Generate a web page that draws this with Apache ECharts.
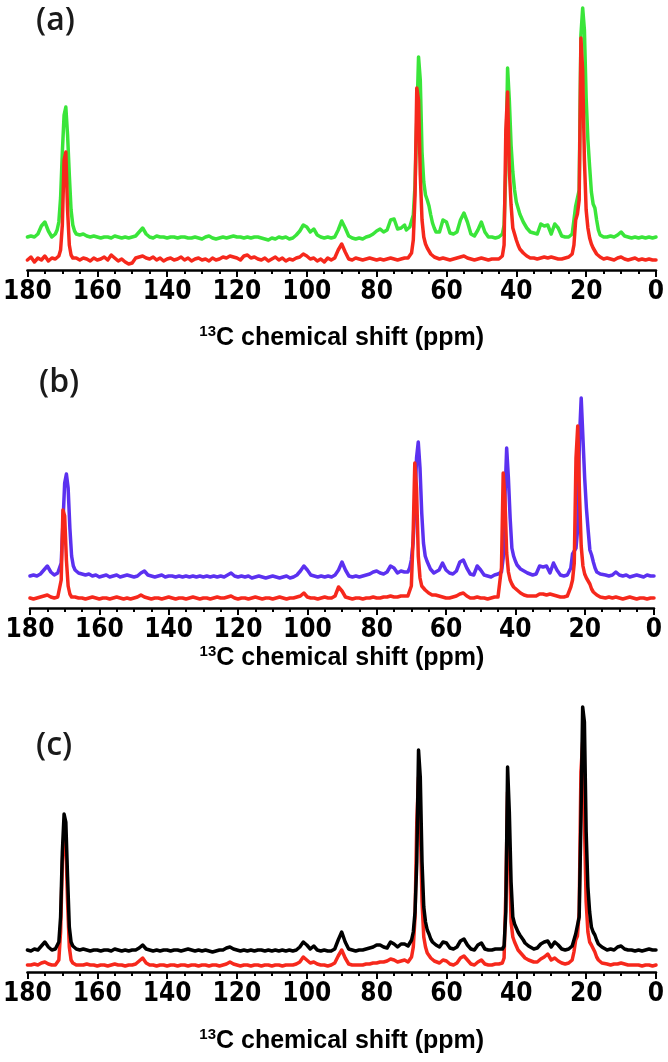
<!DOCTYPE html>
<html>
<head>
<meta charset="utf-8">
<script src="https://cdn.jsdelivr.net/npm/echarts@6/dist/echarts.min.js"></script>
<style>
html,body{margin:0;padding:0;background:#fff;}
#chart{width:668px;height:1062px;}
</style>
</head>
<body>
<div id="chart"></div>
<script>
// chemical shift grid (ppm), shared by every trace
const ppm = [
180,179,178,177,176,175,174,173,172,
171.5,171,170.5,170,169.5,169,168.5,168,167.5,167,166.5,166,
165,164,163,162,161,160,159,158,157,156,
155,154,153,152,151,150,149,148,147,146,
145,144,143,142,141,140,139,138,137,136,
135,134,133,132,131,130,129,128,127,126,
125,124,123,122,121,120,119,118,117,116,
115,114,113,112,111,110,109,108,107,106,
105,104,103,102,101,100,99,98,97,96,
95,94,93,92,91,90,89,88,87,86,
85,84,83,82,81,80,79,78,77,76,
75,74,73,72,
71.5,71,70.5,70,69.5,69,68.5,68,67.5,67,66.5,66,65.5,65,64.5,64,63.5,63,
62,61,60,59,58,57,56,55,54,53,52,51,50,49,48,47,46,
45.5,45,44.5,44,43.5,43,42.5,42,41.5,41,40.5,40,39.5,39,38.5,38,37.5,37,36.5,36,
35,34,33,32,31,30,29,28,27,26,25,
24.5,24,23.5,23,22.5,22,21.5,21,20.5,20,19.5,19,18.5,18,17.5,17,16.5,16,15.5,15,
14,13,12,11,10,9,8,7,6,5,4,3,2,1,0
];

// (a) green trace (offset intensity)
const greenA = [
33,34,33,36,44,48,39,33,36,
40,48,72,118,155,163,135,95,60,45,39,36,
35,36,34,33,34,33,32,33,33,32,
34,33,32,33,32,33,34,38,42,36,
33,32,34,33,33,32,33,33,32,33,
33,32,32,33,32,31,33,34,32,31,
32,33,32,33,34,33,33,32,33,32,
33,33,32,31,30,32,31,33,32,33,
31,32,35,39,45,43,38,41,35,33,
32,33,32,33,40,49,42,34,32,31,
32,31,33,34,36,39,41,38,40,50,
51,41,42,45,
40,38,43,45,55,85,150,213,190,118,88,75,70,64,55,47,42,38,
38,50,48,37,36,38,50,57,48,36,34,40,48,38,33,33,32,
33,33,34,36,45,100,202,170,125,98,80,68,62,56,52,48,45,42,40,38,
37,36,46,44,45,36,46,42,34,33,33,
34,36,50,64,66,80,235,262,240,172,130,103,78,66,62,50,40,35,34,33,
33,34,33,35,38,34,33,32,33,32,33,32,33,32,33
];
// (a) red trace
const redA = [
10,13,8,12,10,14,9,12,11,
12,14,20,45,110,118,60,25,15,12,10,12,
10,12,11,9,12,10,11,13,10,15,
12,9,11,8,6,7,12,13,14,12,
11,13,10,12,9,11,12,10,11,13,
10,12,9,11,12,10,11,9,12,10,
11,13,12,14,13,12,10,14,15,12,
13,11,10,12,9,11,13,10,12,9,
11,10,12,13,16,14,11,12,9,11,
8,12,10,12,20,26,18,11,10,12,
11,10,11,12,11,10,11,10,11,12,
11,10,11,12,
11,12,13,17,30,75,182,170,95,50,33,26,22,19,16,14,13,12,
11,12,11,10,11,12,13,14,12,11,10,11,12,11,10,11,11,
11,11,12,14,25,140,178,100,65,42,36,30,25,21,19,17,15,14,13,12,
12,11,12,13,12,13,12,11,11,12,13,
14,16,25,50,56,70,232,200,110,60,42,32,26,22,19,16,14,13,12,11,
12,11,10,12,13,11,10,11,12,10,11,10,11,10,10
];
// (b) blue trace
const blueB = [
32,33,32,34,38,42,36,33,35,
36,45,85,125,134,120,80,52,42,38,36,35,
34,33,34,32,33,31,32,33,31,32,
33,31,32,33,32,31,32,35,37,33,
32,31,32,33,31,32,32,31,32,31,
32,31,32,31,32,31,32,31,32,31,
32,31,33,35,32,31,32,31,32,30,
31,32,31,30,31,32,31,30,31,32,
30,31,33,37,42,38,33,32,31,32,
31,32,31,33,38,46,38,32,31,32,
31,32,33,34,36,37,35,34,36,42,
40,35,37,36,
34,36,40,48,65,100,150,166,140,95,65,52,47,43,39,37,35,34,
38,45,38,35,34,37,46,48,40,34,33,42,38,33,32,31,33,
33,34,33,36,50,110,160,130,90,60,52,47,43,41,39,38,37,36,35,34,
33,34,42,41,42,35,45,38,33,32,33,
34,40,54,55,60,80,170,210,170,130,100,78,58,53,46,40,36,35,34,33,
33,32,33,36,33,32,33,31,32,33,32,31,33,32,32
];
// (b) red trace
const redB = [
10,9,10,11,12,13,11,10,11,
12,28,98,92,48,22,14,11,10,11,10,10,
10,9,10,11,10,9,10,10,9,10,
11,10,9,10,9,10,11,13,11,10,
9,10,10,9,10,11,10,9,10,10,
9,10,11,10,9,10,10,9,10,11,
10,10,11,12,10,9,10,10,9,10,
11,10,9,10,10,9,10,11,10,9,
10,10,11,12,15,11,10,10,9,10,
11,10,10,12,21,17,11,10,9,10,
10,9,10,10,11,10,10,11,11,12,
11,11,12,12,
11,12,14,22,70,145,120,52,30,22,20,18,16,15,14,13,12,13,
12,11,10,10,11,12,14,15,12,10,10,11,10,10,9,10,11,
10,11,13,40,135,110,55,36,28,24,21,19,18,17,15,14,13,13,12,12,
12,12,14,14,13,14,13,12,11,11,12,
14,21,28,45,150,182,115,62,42,34,30,28,24,19,16,15,13,12,11,10,
10,11,10,11,10,9,10,11,10,9,10,10,9,10,10
];
// (c) black trace
const blackC = [
22,21,23,22,26,30,25,22,23,
24,30,55,120,158,150,95,45,30,26,24,23,
22,23,22,21,22,22,21,22,22,21,
23,22,21,22,21,22,22,24,27,23,
22,21,22,21,22,22,21,22,22,21,
22,23,22,21,22,21,22,21,20,21,
22,22,24,25,23,22,21,22,21,22,
21,22,22,21,22,21,22,21,22,21,
22,21,22,25,30,27,23,26,22,21,
22,21,21,23,32,40,30,23,22,21,
22,22,23,24,25,27,27,25,24,30,
28,25,28,28,
27,26,28,32,40,60,110,222,195,110,65,50,42,38,33,30,28,27,
25,30,29,24,23,25,31,33,27,23,22,27,29,23,22,22,23,
22,23,22,23,26,60,205,160,90,55,48,44,40,37,35,32,29,27,26,25,
23,24,28,30,31,25,30,27,23,22,23,
24,26,32,38,40,55,150,265,250,140,85,60,45,40,37,32,28,26,25,24,
22,23,22,25,26,23,22,22,21,22,21,22,23,22,22
];
// (c) red trace
const redC = [
7,7,8,7,9,10,8,7,7,
8,12,40,110,140,130,70,25,12,9,8,7,
7,7,8,7,7,6,7,7,6,7,
8,7,7,6,7,7,8,11,14,9,
7,7,6,7,7,6,7,7,6,7,
7,6,7,7,6,7,7,6,7,7,
6,7,8,10,8,7,6,7,7,6,
7,7,6,7,7,6,7,7,6,7,
7,7,8,10,15,12,9,10,8,7,
7,6,7,9,16,22,14,8,7,7,
7,7,8,8,9,9,10,10,11,13,
12,10,11,12,
10,10,11,15,25,55,150,195,150,70,35,25,19,17,14,12,11,10,
9,12,11,8,7,9,14,16,12,8,7,10,12,8,7,7,8,
7,8,8,9,14,80,180,120,50,35,30,26,22,20,18,16,14,13,12,11,
10,10,13,15,18,12,14,11,9,8,9,
10,12,20,32,36,60,200,230,150,70,40,30,27,25,20,15,12,10,9,8,
8,7,8,8,9,8,7,7,7,7,6,7,7,6,7
];

const panelLabels = ['(a)', '(b)', '(c)'];
const axisTitleSup = '13';
const axisTitleMain = 'C chemical shift (ppm)';

[greenA, redA, blueB, redB, blackC, redC].forEach(function (a, i) {
  if (a.length !== ppm.length) throw new Error('length mismatch series ' + i + ': ' + a.length + ' vs ' + ppm.length);
});

function pairs(vals) { return ppm.map(function (x, i) { return [x, vals[i]]; }); }

const COLORS = { green: '#3ae53a', red: '#f6281c', blue: '#5b31f0', black: '#000000' };

const chart = echarts.init(document.getElementById('chart'), null, { renderer: 'canvas' });

function xAxisFor(gi, gap) {
  return {
    gridIndex: gi, type: 'value', min: 0, max: 180, interval: 20, inverse: true,
    axisLine: { show: true, onZero: false, lineStyle: { color: '#000', width: 2.5 } },
    axisTick: { show: true, length: 7, lineStyle: { color: '#000', width: 2 } },
    minorTick: { show: true, splitNumber: 4, length: 4, lineStyle: { color: '#000', width: 2 } },
    splitLine: { show: false },
    axisLabel: { margin: 9, color: '#000', fontSize: 26, fontWeight: 'bold',
      fontFamily: '"Liberation Sans Narrow", "Arial Narrow", "DejaVu Sans Condensed", sans-serif' },
    name: '{s|' + axisTitleSup + '}{t|' + axisTitleMain + '}',
    nameLocation: 'middle', nameGap: gap,
    nameTextStyle: {
      rich: {
        s: { fontSize: 15, lineHeight: 15, fontWeight: 'bold', color: '#000', verticalAlign: 'top', fontFamily: '"Liberation Sans", Arial, sans-serif' },
        t: { fontSize: 25, lineHeight: 28, fontWeight: 'bold', color: '#000', fontFamily: '"Liberation Sans", Arial, sans-serif' }
      }
    }
  };
}
function yAxisFor(gi, max) {
  return { gridIndex: gi, type: 'value', min: 0, max: max, show: false };
}
function line(gi, data, color, z) {
  return {
    type: 'line', xAxisIndex: gi, yAxisIndex: gi, data: pairs(data), showSymbol: false, symbol: 'none',
    lineStyle: { color: color, width: 3.5, join: 'round', cap: 'round' }, z: z, silent: true, clip: false
  };
}

const labelFont = '600 32px "Open Sans", "Noto Sans", sans-serif';

chart.setOption({
  animation: false,
  backgroundColor: '#fff',
  grid: [
    { left: 27, right: 12, top: 0, height: 270 },
    { left: 30, right: 14, top: 338, height: 270 },
    { left: 27, right: 12, top: 692, height: 280 }
  ],
  xAxis: [xAxisFor(0, 54), xAxisFor(1, 36), xAxisFor(2, 55)],
  yAxis: [yAxisFor(0, 270), yAxisFor(1, 270), yAxisFor(2, 280)],
  series: [
    line(0, greenA, COLORS.green, 2),
    line(0, redA, COLORS.red, 3),
    line(1, blueB, COLORS.blue, 2),
    line(1, redB, COLORS.red, 3),
    line(2, redC, COLORS.red, 2),
    line(2, blackC, COLORS.black, 3)
  ],
  graphic: [
    { type: 'text', left: 36, top: 5, style: { text: panelLabels[0], font: labelFont, fill: '#1a1a1a' } },
    { type: 'text', left: 39, top: 367, style: { text: panelLabels[1], font: labelFont, fill: '#1a1a1a' } },
    { type: 'text', left: 36, top: 730, style: { text: panelLabels[2], font: labelFont, fill: '#1a1a1a' } }
  ]
});
</script>
</body>
</html>
